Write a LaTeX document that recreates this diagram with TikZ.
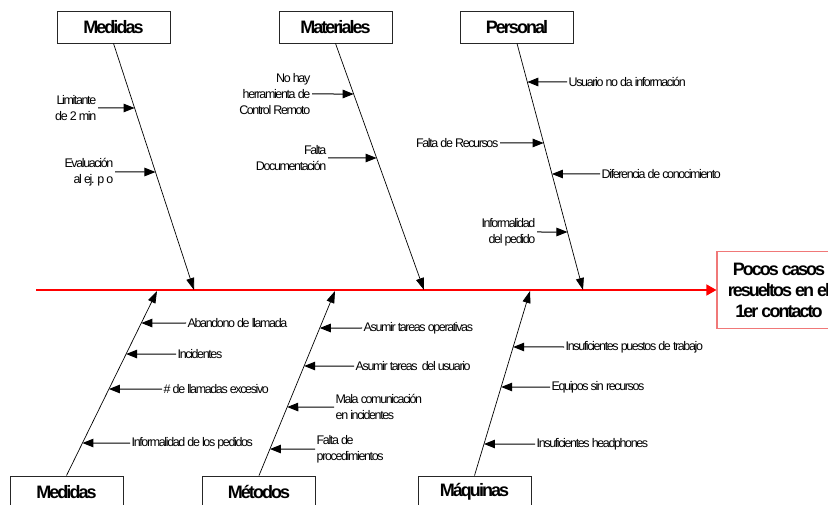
\documentclass[tikz,border=0pt]{standalone}
\usepackage{fontspec}
\setmainfont{Liberation Sans}
\newfontfamily\causefont[LetterSpace=-11]{Liberation Sans}
\newfontfamily\headfont[LetterSpace=-11]{Liberation Sans}
\usetikzlibrary{arrows.meta,calc}
\definecolor{effred}{HTML}{F07878}
\tikzset{
  cat/.style={draw=black!85,line width=0.9pt,minimum width=113pt,minimum height=32pt,inner sep=0pt,
    font={\headfont\bfseries\fontsize{18}{21}\selectfont}},
  eff/.style={draw=effred,line width=1.1pt,minimum width=124pt,minimum height=77pt,align=center,inner sep=0pt,
    font={\headfont\bfseries\fontsize{18}{21}\selectfont}},
  cause/.style={inner sep=1.5pt,font={\causefont\fontsize{12.5}{16}\selectfont}},
  causeR/.style={cause,anchor=east,align=right},
  causeL/.style={cause,anchor=west,align=left},
  branch/.style={line width=0.7pt,-{Triangle[length=12pt,width=8pt]}},
  sub/.style={line width=1pt,-{Triangle[length=11pt,width=8.5pt]}},
  spine/.style={draw={rgb,1:red,1;green,0;blue,0},line width=1.3pt,-{Triangle[length=10pt,width=11pt,fill=red]}}
}
\newcommand\hit[3]{(intersection cs: first line={(#1)--(#2)}, second line={(#3.west)--(#3.east)})}
\begin{document}
\begin{tikzpicture}[x=1pt,y=-1pt]
\useasboundingbox (0,0) rectangle (828,505);
\clip (0,0) rectangle (828,505);
\fill[white] (0,0) rectangle (828,505);
% category boxes
\node[cat] (medT) at (113.5,27) {Medidas};
\node[cat] (matT) at (335.5,27) {Materiales};
\node[cat] (perT) at (517,27) {Personal};
\node[cat] (medB) at (66.5,492) {Medidas};
\node[cat] (metB) at (259,492) {Métodos};
\node[cat] (maqB) at (474.5,492) {Máquinas};
% effect
\node[eff] (eff) at (779,290) {Pocos casos\\resueltos en el\\1er contacto};
% spine
\coordinate (tail) at (36,290);
\coordinate (s1) at (194,290);
\coordinate (s2) at (424,290);
\coordinate (s3) at (583,290);
\coordinate (s4) at (157,291);
\coordinate (s5) at (335,291);
\coordinate (s6) at (530,291);
\draw[spine] (tail) -- (eff.west);
% branches
\draw[branch] (medT.south) -- (s1);
\draw[branch] (matT.south) -- (s2);
\draw[branch] (perT.south) -- (s3);
\draw[branch] (medB.north) -- (s4);
\draw[branch] (metB.north) -- (s5);
\draw[branch] (maqB.north) -- (s6);
% causes: Medidas (top)
\node[causeR] (t1) at (98,108) {Limitante\\de 2 min};
\node[causeR] (t2) at (115,172) {Evaluación\\al ej. p o};
\draw[sub] (t1.east) -- \hit{medT.south}{s1}{t1};
\draw[sub] (t2.east) -- \hit{medT.south}{s1}{t2};
% Materiales
\node[causeR] (t3) at (312,94) {No hay\\herramienta de\\Control Remoto};
\node[causeR] (t4) at (328,158) {Falta\\Documentación};
\draw[sub] (t3.east) -- \hit{matT.south}{s2}{t3};
\draw[sub] (t4.east) -- \hit{matT.south}{s2}{t4};
% Personal
\node[causeL] (t5) at (567,82) {Usuario no da información};
\node[causeR] (t6) at (500,143) {Falta de Recursos};
\node[causeL] (t7) at (600,174) {Diferencia de conocimiento};
\node[causeR] (t8) at (537,232) {Informalidad\\del pedido};
\draw[sub] (t5.west) -- \hit{perT.south}{s3}{t5};
\draw[sub] (t6.east) -- \hit{perT.south}{s3}{t6};
\draw[sub] (t7.west) -- \hit{perT.south}{s3}{t7};
\draw[sub] (t8.east) -- \hit{perT.south}{s3}{t8};
% Medidas (bottom)
\node[causeL] (b1) at (186,323) {Abandono de llamada};
\node[causeL] (b2) at (176,354) {Incidentes};
\node[causeL] (b3) at (162,389) {\# de llamadas excesivo};
\node[causeL] (b4) at (130,443) {Informalidad de los pedidos};
\draw[sub] (b1.west) -- \hit{medB.north}{s4}{b1};
\draw[sub] (b2.west) -- \hit{medB.north}{s4}{b2};
\draw[sub] (b3.west) -- \hit{medB.north}{s4}{b3};
\draw[sub] (b4.west) -- \hit{medB.north}{s4}{b4};
% Métodos
\node[causeL] (b5) at (362,328) {Asumir tareas operativas};
\node[causeL] (b6) at (354,366) {Asumir tareas\ \ del usuario};
\node[causeL] (b7) at (334,407) {Mala comunicación\\en incidentes};
\node[causeL] (b8) at (315,449) {Falta de\\procedimientos};
\draw[sub] (b5.west) -- \hit{metB.north}{s5}{b5};
\draw[sub] (b6.west) -- \hit{metB.north}{s5}{b6};
\draw[sub] (b7.west) -- \hit{metB.north}{s5}{b7};
\draw[sub] (b8.west) -- \hit{metB.north}{s5}{b8};
% Máquinas
\node[causeL] (b9) at (564,347) {Insuficientes puestos de trabajo};
\node[causeL] (b10) at (550,387) {Equipos sin recursos};
\node[causeL] (b11) at (535,444) {Insuficientes headphones};
\draw[sub] (b9.west) -- \hit{maqB.north}{s6}{b9};
\draw[sub] (b10.west) -- \hit{maqB.north}{s6}{b10};
\draw[sub] (b11.west) -- \hit{maqB.north}{s6}{b11};
\end{tikzpicture}
\end{document}
